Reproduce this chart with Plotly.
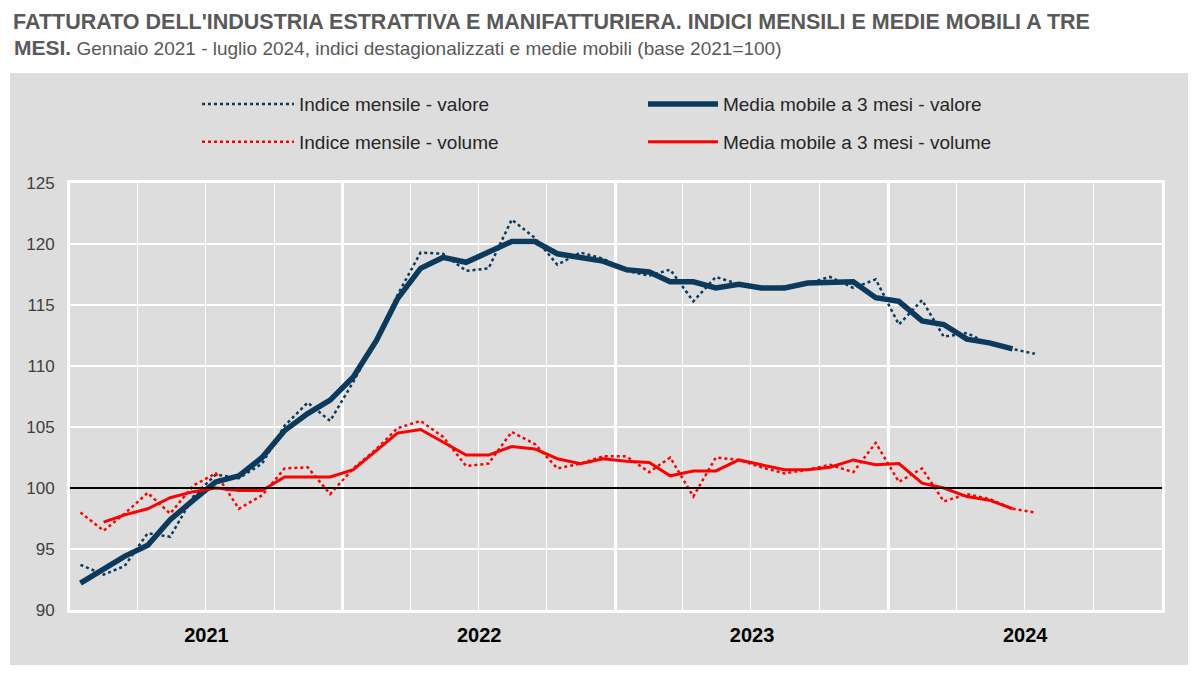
import plotly.graph_objects as go

# Monthly dates Jan 2021 - Jul 2024 (mid-month)
months = [f"{2021 + i // 12}-{i % 12 + 1:02d}-15" for i in range(43)]

valore_mensile = [93.7, 92.9, 93.6, 96.3, 96.0, 99.3, 101.1, 100.8, 102.0, 105.1, 107.0, 105.5,
                  108.7, 112.2, 115.8, 119.3, 119.2, 117.8, 118.0, 122.0, 120.5, 118.3, 119.3, 118.8,
                  117.8, 117.4, 117.9, 115.3, 117.3, 116.7, 116.4, 116.5, 116.8, 117.3, 116.4, 117.1,
                  113.4, 115.4, 112.4, 112.7, 111.8, 111.4, 111.0]

valore_mm = [92.2, 93.3, 94.4, 95.3, 97.4, 99.0, 100.5, 101.0, 102.5, 104.7, 106.1, 107.2,
             109.1, 112.1, 115.5, 118.0, 118.9, 118.5, 119.3, 120.2, 120.2, 119.2, 118.9, 118.6,
             117.9, 117.7, 116.9, 116.9, 116.4, 116.7, 116.4, 116.4, 116.8, 116.8, 116.9, 115.6,
             115.3, 113.7, 113.4, 112.2, 111.9, 111.4, None]

volume_mensile = [98.0, 96.5, 97.9, 99.6, 97.9, 100.2, 101.2, 98.3, 99.4, 101.6, 101.7, 99.5,
                  101.6, 103.2, 104.9, 105.5, 104.2, 101.8, 102.0, 104.6, 103.6, 101.6, 102.0, 102.6,
                  102.6, 101.3, 102.5, 99.3, 102.5, 102.3, 101.7, 101.2, 101.5, 101.9, 101.3, 103.7,
                  100.5, 101.6, 98.9, 99.5, 99.1, 98.3, 98.0]

volume_mm = [None, 97.2, 97.8, 98.3, 99.2, 99.7, 100.0, 99.8, 99.8, 100.9, 100.9, 100.9,
             101.5, 103.1, 104.5, 104.8, 103.8, 102.7, 102.7, 103.4, 103.2, 102.4, 102.0, 102.4,
             102.2, 102.1, 101.0, 101.4, 101.4, 102.3, 101.9, 101.5, 101.5, 101.7, 102.3, 101.9,
             102.0, 100.4, 100.0, 99.3, 99.0, 98.3, None]

y_ticks = [90, 95, 100, 105, 110, 115, 120, 125]

BLUE = "#0b3a5c"
RED = "#ff0000"
FONT = "Liberation Sans Narrow, Arial Narrow, Liberation Sans, Arial, sans-serif"

fig = go.Figure()
fig.add_trace(go.Scatter(x=months, y=valore_mensile, name="Indice mensile - valore", mode="lines",
                         line=dict(color=BLUE, width=2.5, dash="dot"),
                         legend="legend", legendgroup="a"))
fig.add_trace(go.Scatter(x=months, y=volume_mensile, name="Indice mensile - volume", mode="lines",
                         line=dict(color=RED, width=2.5, dash="dot"),
                         legend="legend", legendgroup="b"))
fig.add_trace(go.Scatter(x=months, y=valore_mm, name="Media mobile a 3 mesi - valore", mode="lines",
                         line=dict(color=BLUE, width=5.5),
                         legend="legend2", legendgroup="c"))
fig.add_trace(go.Scatter(x=months, y=volume_mm, name="Media mobile a 3 mesi - volume", mode="lines",
                         line=dict(color=RED, width=3),
                         legend="legend2", legendgroup="d"))

# Gray background box and the 100 reference line
fig.add_shape(type="rect", xref="paper", yref="paper", x0=-0.0549, x1=1.0238, y0=-0.1288, y1=1.2576,
              fillcolor="#dddddd", line=dict(width=0), layer="below")
fig.add_shape(type="line", xref="paper", yref="y", x0=0, x1=1, y0=100, y1=100,
              line=dict(color="black", width=2), layer="above")

# Title
fig.add_annotation(xref="paper", yref="paper", x=-0.0531, y=1.4075, xanchor="left", yanchor="top",
                   showarrow=False, align="left", borderpad=0,
                   text="<b>FATTURATO DELL'INDUSTRIA ESTRATTIVA E MANIFATTURIERA. INDICI MENSILI E MEDIE MOBILI A TRE</b>",
                   font=dict(size=21.5, color="#595959", family=FONT))
fig.add_annotation(xref="paper", yref="paper", x=-0.0531, y=1.318, xanchor="left", yanchor="middle",
                   showarrow=False, align="left",
                   text="<b>MESI.</b><span style='font-size:19px'> Gennaio 2021 - luglio 2024, indici destagionalizzati e medie mobili (base 2021=100)</span>",
                   font=dict(size=21, color="#595959", family=FONT))

legend_common = dict(xanchor="left", yanchor="top", bgcolor="rgba(0,0,0,0)",
                     font=dict(size=19, color="#262626", family=FONT), tracegroupgap=10,
                     orientation="v")

fig.update_layout(
    width=1192, height=667,
    margin=dict(l=62, r=38, t=175, b=65),
    paper_bgcolor="white", plot_bgcolor="#dddddd",
    font=dict(family=FONT, color="#404040"),
    showlegend=True,
    legend=dict(x=0.1163, y=1.229, itemwidth=92, **legend_common),
    legend2=dict(x=0.5247, y=1.229, itemwidth=70, **legend_common),
    xaxis=dict(type="date", range=["2021-01-01", "2025-01-01"], tick0="2021-01-01", dtick="M12",
               tickformat="%Y", ticklabelmode="period",
               showgrid=True, gridcolor="white", gridwidth=3, zeroline=False,
               showline=True, mirror=True, linecolor="white", linewidth=3,
               ticks="outside", ticklen=5, tickcolor="rgba(0,0,0,0)",
               tickfont=dict(size=20, color="black", family=FONT, weight="bold"),
               minor=dict(tick0="2021-01-01", dtick="M3", showgrid=True, gridcolor="white", gridwidth=1)),
    yaxis=dict(range=[90, 125], tickvals=y_ticks, showgrid=True, gridcolor="white", gridwidth=1.5,
               zeroline=False, showline=True, mirror=True, linecolor="white", linewidth=3,
               ticks="outside", ticklen=9, tickcolor="rgba(0,0,0,0)",
               tickfont=dict(size=17, color="#404040", family=FONT)),
)

fig.write_html("out.html")
